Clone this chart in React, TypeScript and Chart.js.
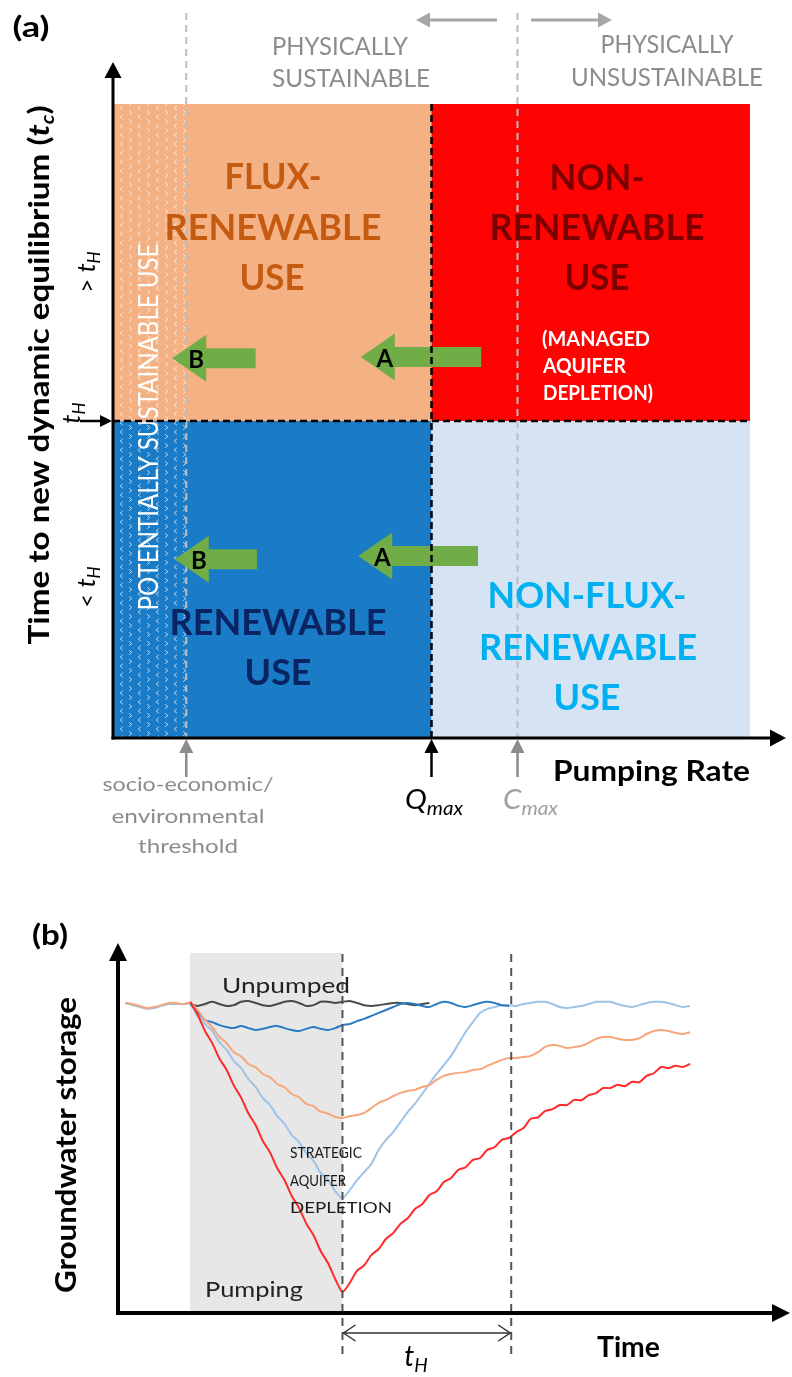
import React, { useEffect, useRef } from 'react';
import { Chart, registerables } from 'chart.js';

Chart.register(...registerables);

const FAM = 'Lato, "Open Sans", sans-serif';

// ---------------- Panel (a): pumping rate vs time to new dynamic equilibrium ----------------
const pumpingRateBounds = [0, 50, 100]; // origin, Q_max, end of axis
const equilibriumBounds = [0, 50, 100]; // origin, t_H, top of axis
const thresholdRate = 11.5; // socio-economic / environmental threshold
const qMax = 50;
const cMax = 63.5;
const shiftLabels = ['A', 'B', 'A', 'B'];
const shiftFrom = [57.8, 22.4, 57.3, 22.6];
const shiftTo = [38.9, 9.3, 38.5, 9.7];
const shiftLevel = [60.1, 59.9, 28.7, 28.2];

// ---------------- Panel (b): groundwater storage through time ----------------
const pumpingStart = 9.94;
const pumpingEnd = 31;
const recoveryEnd = 54.3;

const unpumpedStart = 10;
const unpumped = [83.5, 83.0, 83.5, 84.1, 83.5, 83.0, 83.2, 84.1, 84.3, 83.8, 83.2, 83.0, 83.5, 84.1, 84.3, 83.8, 83.0, 83.2, 84.1, 84.1, 83.8, 84.1, 84.3, 83.8, 83.2, 83.0, 83.2, 83.5, 83.8, 83.8, 83.5, 83.2, 83.5, 83.8];

const renewableStart = 10;
const renewable = [83.5, 81.4, 79.2, 78.6, 77.8, 77.3, 77.0, 77.6, 77.0, 76.5, 76.8, 77.3, 77.6, 77.0, 76.5, 76.2, 76.8, 77.3, 76.8, 76.5, 77.0, 77.8, 78.1, 78.9, 79.5, 80.3, 81.1, 81.9, 82.7, 83.5, 83.8, 83.5, 83.0, 82.7, 83.5, 84.1, 83.8, 83.0, 82.7, 83.2, 83.8, 84.1, 83.8, 83.2, 83.0];

const fluxRenewableStart = 1;
const fluxRenewable = [83.8, 83.5, 83.0, 82.4, 82.7, 83.2, 83.8, 83.8, 83.5, 83.8, 81.9, 79.2, 77.3, 74.6, 72.9, 70.5, 69.4, 67.3, 66.4, 64.6, 63.7, 61.9, 61.0, 59.2, 58.3, 56.5, 55.9, 54.4, 53.9, 53.0, 52.7, 53.2, 53.5, 54.1, 55.4, 56.8, 57.6, 58.6, 59.5, 60.0, 60.3, 61.1, 61.6, 63.0, 64.1, 64.6, 64.9, 65.1, 65.7, 65.9, 66.8, 67.6, 68.4, 68.9, 68.9, 69.2, 69.5, 70.5, 71.9, 72.4, 72.2, 71.6, 71.9, 72.2, 73.0, 74.1, 74.6, 74.6, 74.1, 73.8, 73.8, 74.3, 75.4, 76.2, 76.5, 76.2, 75.7, 75.4, 75.9];

const strategicStart = 1;
const strategic = [83.8, 83.2, 82.7, 82.2, 82.4, 83.0, 83.5, 83.5, 83.5, 83.5, 80.3, 78.1, 76.3, 73.2, 71.1, 68.1, 66.2, 63.2, 61.1, 58.1, 56.2, 53.2, 51.1, 48.1, 46.2, 43.2, 41.1, 37.8, 36.0, 32.9, 31.1, 33.2, 35.9, 38.1, 40.3, 44.1, 46.8, 48.9, 51.6, 54.3, 56.5, 59.2, 61.9, 64.6, 67.0, 69.5, 72.7, 75.9, 78.6, 81.1, 82.2, 82.7, 83.2, 83.2, 83.0, 83.5, 83.8, 84.1, 84.1, 83.5, 82.7, 82.4, 82.7, 83.0, 83.5, 84.1, 84.1, 84.1, 83.5, 83.0, 82.7, 83.2, 83.8, 84.1, 84.1, 83.8, 83.2, 82.7, 83.0];

const nonRenewableStart = 10;
const nonRenewable = [84.1, 80.6, 76.3, 73.0, 68.8, 65.7, 61.5, 58.2, 54.0, 50.8, 46.5, 43.4, 39.1, 35.9, 31.6, 28.4, 24.2, 21.0, 16.7, 13.5, 9.2, 5.7, 8.1, 11.4, 12.9, 15.7, 17.3, 20.0, 21.6, 24.1, 25.6, 28.1, 29.4, 31.9, 32.9, 35.4, 36.5, 38.7, 39.4, 41.4, 41.9, 44.1, 44.8, 46.8, 47.3, 48.9, 50.0, 52.5, 52.9, 54.6, 55.1, 56.2, 56.2, 57.6, 57.5, 58.9, 59.4, 60.8, 60.8, 61.7, 61.3, 62.5, 62.4, 64.1, 64.8, 66.5, 66.2, 66.8, 66.5, 67.3];

const B_OFFSET = 870;

type Run = { t: string; size: number; weight?: string; italic?: boolean; dy?: number };

function fontOf(r: Run) {
  return `${r.italic ? 'italic ' : ''}${r.weight || 'normal'} ${r.size}px ${FAM}`;
}

function runs(ctx: CanvasRenderingContext2D, list: Run[], cx: number, cy: number, opts: { color: string; align?: 'left' | 'center'; rot?: number; width?: number }) {
  let total = 0;
  const widths = list.map((r) => {
    ctx.font = fontOf(r);
    const w = ctx.measureText(r.t).width;
    total += w;
    return w;
  });
  const sx = opts.width ? opts.width / total : 1;
  ctx.save();
  ctx.translate(cx, cy);
  if (opts.rot) ctx.rotate(opts.rot);
  ctx.scale(sx, 1);
  let x = opts.align === 'left' ? 0 : -total / 2;
  const base = list[0].size * 0.358;
  ctx.fillStyle = opts.color;
  ctx.textAlign = 'left';
  ctx.textBaseline = 'alphabetic';
  list.forEach((r, i) => {
    ctx.font = fontOf(r);
    ctx.fillText(r.t, x, base + (r.dy || 0));
    x += widths[i];
  });
  ctx.restore();
}

function text(ctx: CanvasRenderingContext2D, s: string, cx: number, cy: number, size: number, opts: { color: string; weight?: string; italic?: boolean; align?: 'left' | 'center'; rot?: number; width?: number }) {
  runs(ctx, [{ t: s, size, weight: opts.weight, italic: opts.italic }], cx, cy, opts);
}

function head(ctx: CanvasRenderingContext2D, tipX: number, tipY: number, dx: number, dy: number, len: number, half: number) {
  const bx = tipX - dx * len;
  const by = tipY - dy * len;
  const px = -dy;
  const py = dx;
  ctx.beginPath();
  ctx.moveTo(tipX, tipY);
  ctx.lineTo(bx + px * half, by + py * half);
  ctx.lineTo(bx - px * half, by - py * half);
  ctx.closePath();
  ctx.fill();
}

function line(ctx: CanvasRenderingContext2D, x1: number, y1: number, x2: number, y2: number) {
  ctx.beginPath();
  ctx.moveTo(x1, y1);
  ctx.lineTo(x2, y2);
  ctx.stroke();
}

function makeHatch(): CanvasPattern | string {
  const tile = document.createElement('canvas');
  tile.width = 18;
  tile.height = 18;
  const t = tile.getContext('2d')!;
  t.strokeStyle = 'rgba(255,255,255,0.7)';
  t.lineWidth = 1;
  const chev = (x: number, y: number, dir: number) => {
    t.beginPath();
    t.moveTo(x - dir * 1.3, y - 2.2);
    t.lineTo(x + dir * 1.3, y);
    t.lineTo(x - dir * 1.3, y + 2.2);
    t.stroke();
  };
  chev(4.5, 4.5, 1);
  chev(4.5, 13.5, 1);
  chev(13.5, 0, -1);
  chev(13.5, 9, -1);
  chev(13.5, 18, -1);
  const ctx = document.createElement('canvas').getContext('2d')!;
  return ctx.createPattern(tile, 'repeat') || 'rgba(255,255,255,0.3)';
}

const panelAPlugin = {
  id: 'panelA',
  beforeDatasetsDraw(chart: any) {
    const ctx: CanvasRenderingContext2D = chart.ctx;
    const X = (v: number) => chart.scales.x.getPixelForValue(v);
    const Y = (v: number) => chart.scales.y.getPixelForValue(v);
    const [x0, xq, x1] = pumpingRateBounds.map(X);
    const [y0, yt, y1] = equilibriumBounds.map(Y);
    ctx.save();
    // quadrants
    ctx.fillStyle = '#F4B183';
    ctx.fillRect(x0, y1, xq - x0, yt - y1);
    ctx.fillStyle = '#FF0303';
    ctx.fillRect(xq, y1, x1 - xq, yt - y1);
    ctx.fillStyle = '#1A7CC7';
    ctx.fillRect(x0, yt, xq - x0, y0 - yt);
    ctx.fillStyle = '#D5E3F3';
    ctx.fillRect(xq, yt, x1 - xq, y0 - yt);
    // potentially sustainable hatch strip
    const xt = X(thresholdRate);
    ctx.fillStyle = makeHatch() as any;
    ctx.fillRect(x0, y1, xt - x0, y0 - y1);
    text(ctx, 'POTENTIALLY SUSTAINABLE USE', 148, 427, 27, { color: '#FFFFFF', rot: -Math.PI / 2, width: 367 });

    // grey dashed threshold / C_max lines
    ctx.strokeStyle = '#BDBDBD';
    ctx.lineWidth = 2;
    ctx.setLineDash([7, 5]);
    line(ctx, xt, 13, xt, y0);
    line(ctx, X(cMax), 13, X(cMax), y0);
    ctx.setLineDash([]);

    // region labels
    const fl = '#C55A11';
    text(ctx, 'FLUX-', 273, 176, 37, { color: fl, weight: 'bold', width: 97 });
    text(ctx, 'RENEWABLE', 273, 227, 37, { color: fl, weight: 'bold', width: 217 });
    text(ctx, 'USE', 272, 277, 37, { color: fl, weight: 'bold', width: 65 });
    const nr = '#7A0000';
    text(ctx, 'NON-', 597, 177, 37, { color: nr, weight: 'bold', width: 95 });
    text(ctx, 'RENEWABLE', 597, 227, 37, { color: nr, weight: 'bold', width: 215 });
    text(ctx, 'USE', 597, 277, 37, { color: nr, weight: 'bold', width: 65 });
    text(ctx, '(MANAGED', 542, 338, 21, { color: '#FFFFFF', weight: 'bold', align: 'left', width: 108 });
    text(ctx, 'AQUIFER', 543, 365, 21, { color: '#FFFFFF', weight: 'bold', align: 'left', width: 83 });
    text(ctx, 'DEPLETION)', 543, 392, 21, { color: '#FFFFFF', weight: 'bold', align: 'left', width: 110 });
    const rn = '#0A2463';
    text(ctx, 'RENEWABLE', 278, 622, 37, { color: rn, weight: 'bold', width: 217 });
    text(ctx, 'USE', 278, 672, 37, { color: rn, weight: 'bold', width: 67 });
    const nf = '#00B0F0';
    text(ctx, 'NON-FLUX-', 587, 595, 37, { color: nf, weight: 'bold', width: 199 });
    text(ctx, 'RENEWABLE', 588, 647, 37, { color: nf, weight: 'bold', width: 218 });
    text(ctx, 'USE', 587, 697, 37, { color: nf, weight: 'bold', width: 67 });

    // green shift arrows
    shiftLabels.forEach((lab, i) => {
      const tip = X(shiftTo[i]);
      const end = X(shiftFrom[i]);
      const cy = Y(shiftLevel[i]);
      const hl = 34;
      ctx.fillStyle = '#70AD47';
      ctx.beginPath();
      ctx.moveTo(tip, cy);
      ctx.lineTo(tip + hl, cy - 23.5);
      ctx.lineTo(tip + hl, cy - 10);
      ctx.lineTo(end, cy - 10);
      ctx.lineTo(end, cy + 10);
      ctx.lineTo(tip + hl, cy + 10);
      ctx.lineTo(tip + hl, cy + 23.5);
      ctx.closePath();
      ctx.fill();
      text(ctx, lab, tip + 24, cy + 1, 24, { color: '#000000', weight: 'bold' });
    });

    // black dashed Q_max / t_H lines
    ctx.strokeStyle = '#000000';
    ctx.lineWidth = 2.5;
    ctx.setLineDash([7, 4]);
    line(ctx, xq, y1, xq, y0);
    line(ctx, x0, yt, x1, yt);
    ctx.setLineDash([]);

    // axes
    ctx.strokeStyle = '#000000';
    ctx.fillStyle = '#000000';
    ctx.lineWidth = 3;
    line(ctx, x0, y0 + 1.5, x0, 74);
    head(ctx, x0, 62, 0, -1, 16, 8.5);
    line(ctx, x0 - 1.5, y0, 772, y0);
    head(ctx, 786, y0, 1, 0, 16, 8.5);
    // t_H tick arrow
    ctx.lineWidth = 2.5;
    line(ctx, 80, yt, 102, yt);
    head(ctx, x0 - 1, yt, 1, 0, 12, 6);

    // arrows under the x axis
    const upArrow = (x: number, color: string) => {
      ctx.strokeStyle = color;
      ctx.fillStyle = color;
      ctx.lineWidth = 2.5;
      line(ctx, x, 777, x, 750);
      head(ctx, x, y0 + 1, 0, -1, 14, 7);
    };
    upArrow(xt, '#8C8C8C');
    upArrow(X(cMax), '#8C8C8C');
    upArrow(xq, '#000000');

    // top grey arrows
    ctx.strokeStyle = '#A6A6A6';
    ctx.fillStyle = '#A6A6A6';
    ctx.lineWidth = 3;
    line(ctx, 497, 20, 428, 20);
    head(ctx, 416, 20, -1, 0, 14, 7.5);
    line(ctx, 531, 20, 600, 20);
    head(ctx, 612, 20, 1, 0, 14, 7.5);

    // texts
    const g = '#8C8C8C';
    text(ctx, '(a)', 31, 27, 28, { color: '#000000', weight: 'bold', width: 37 });
    text(ctx, 'PHYSICALLY', 272, 46, 25, { color: g, align: 'left', width: 136 });
    text(ctx, 'SUSTAINABLE', 272, 78, 25, { color: g, align: 'left', width: 158 });
    text(ctx, 'PHYSICALLY', 667, 44, 25, { color: g, width: 133 });
    text(ctx, 'UNSUSTAINABLE', 667, 77, 25, { color: g, width: 192 });

    text(ctx, 'socio-economic/', 188, 784, 20, { color: g, width: 171 });
    text(ctx, 'environmental', 188, 816, 20, { color: g, width: 153 });
    text(ctx, 'threshold', 188, 846, 20, { color: g, width: 100 });

    runs(ctx, [{ t: 'Q', size: 27, italic: true }, { t: 'max', size: 19, italic: true, dy: 6 }], 405, 799, { color: '#000000', align: 'left', width: 58 });
    runs(ctx, [{ t: 'C', size: 27, italic: true }, { t: 'max', size: 19, italic: true, dy: 6 }], 503, 799, { color: '#A0A0A0', align: 'left', width: 55 });
    text(ctx, 'Pumping Rate', 553, 771, 28, { color: '#000000', weight: 'bold', align: 'left', width: 197 });

    runs(ctx, [
      { t: 'Time to new dynamic equilibrium (', size: 28, weight: 'bold' },
      { t: 't', size: 28, weight: 'bold', italic: true },
      { t: 'c', size: 18, weight: 'bold', italic: true, dy: 5 },
      { t: ')', size: 28, weight: 'bold' },
    ], 39, 375, { color: '#000000', rot: -Math.PI / 2, width: 539 });

    const tH = (sym: string, cx: number, cy: number) =>
      runs(ctx, [
        { t: sym, size: 24 },
        { t: 't', size: 26, italic: true },
        { t: 'H', size: 17, italic: true, dy: 5 },
      ], cx, cy, { color: '#000000', rot: -Math.PI / 2 });
    tH('> ', 86, 272);
    tH('< ', 86, 587);
    runs(ctx, [{ t: 't', size: 26, italic: true }, { t: 'H', size: 17, italic: true, dy: 5 }], 71, 413, { color: '#000000', rot: -Math.PI / 2 });
    ctx.restore();
  },
};

const panelBPlugin = {
  id: 'panelB',
  beforeDatasetsDraw(chart: any) {
    const ctx: CanvasRenderingContext2D = chart.ctx;
    const X = (v: number) => chart.scales.x.getPixelForValue(v);
    const Y = (v: number) => chart.scales.y.getPixelForValue(v);
    ctx.save();
    ctx.fillStyle = '#E7E7E7';
    ctx.fillRect(X(pumpingStart), Y(97.3), X(pumpingEnd) - X(pumpingStart), Y(0) - Y(97.3));
    ctx.restore();
  },
  afterDatasetsDraw(chart: any) {
    const ctx: CanvasRenderingContext2D = chart.ctx;
    const X = (v: number) => chart.scales.x.getPixelForValue(v);
    const Y = (v: number) => chart.scales.y.getPixelForValue(v);
    ctx.save();
    const xs = X(pumpingEnd);
    const xe = X(recoveryEnd);
    const y0 = Y(0);
    ctx.strokeStyle = '#555555';
    ctx.lineWidth = 2;
    ctx.setLineDash([8, 6]);
    line(ctx, xs, Y(97), xs, y0 + 42);
    line(ctx, xe, Y(97), xe, y0 + 42);
    ctx.setLineDash([]);

    // axes
    const x0 = X(0);
    ctx.strokeStyle = '#000000';
    ctx.fillStyle = '#000000';
    ctx.lineWidth = 4;
    line(ctx, x0, y0 + 2, x0, Y(100) + 16);
    head(ctx, x0, Y(100), 0, -1, 18, 9);
    line(ctx, x0 - 2, y0, X(92.8) - 16, y0);
    head(ctx, X(92.8), y0, 1, 0, 18, 9);

    // t_H double arrow
    ctx.strokeStyle = '#333333';
    ctx.lineWidth = 1.5;
    const ya = y0 + 20;
    line(ctx, xs + 1, ya, xe - 1, ya);
    ctx.beginPath();
    ctx.moveTo(xs + 13, ya - 8);
    ctx.lineTo(xs + 1, ya);
    ctx.lineTo(xs + 13, ya + 8);
    ctx.moveTo(xe - 13, ya - 8);
    ctx.lineTo(xe - 1, ya);
    ctx.lineTo(xe - 13, ya + 8);
    ctx.stroke();

    ctx.translate(0, -B_OFFSET);
    text(ctx, '(b)', 50, 935, 28, { color: '#000000', weight: 'bold', width: 36 });
    text(ctx, 'Unpumped', 286, 985, 22, { color: '#222222', width: 128 });
    text(ctx, 'Pumping', 205, 1289, 22, { color: '#222222', align: 'left', width: 98 });
    text(ctx, 'STRATEGIC', 290, 1152, 16, { color: '#1A1A1A', align: 'left', width: 72 });
    text(ctx, 'AQUIFER', 290, 1180, 16, { color: '#1A1A1A', align: 'left', width: 56 });
    text(ctx, 'DEPLETION', 290, 1207, 16, { color: '#1A1A1A', align: 'left', width: 102 });
    runs(ctx, [{ t: 't', size: 28, italic: true }, { t: 'H', size: 19, italic: true, dy: 6 }], 416, 1356, { color: '#000000' });
    text(ctx, 'Time', 597, 1347, 28, { color: '#000000', weight: 'bold', align: 'left', width: 63 });
    text(ctx, 'Groundwater storage', 66, 1145, 28, { color: '#000000', weight: 'bold', rot: -Math.PI / 2, width: 296 });
    ctx.restore();
  },
};

function series(start: number, values: number[]) {
  return values.map((v, i) => ({ x: start + i, y: v }));
}

export default function App() {
  const refA = useRef<HTMLCanvasElement>(null);
  const refB = useRef<HTMLCanvasElement>(null);

  useEffect(() => {
    const chartA = new Chart(refA.current!, {
      type: 'scatter',
      data: { datasets: [] },
      options: {
        animation: false,
        responsive: false,
        devicePixelRatio: 1,
        layout: { padding: { left: 113, right: 42, top: 104, bottom: 132 } },
        scales: {
          x: { type: 'linear', min: 0, max: 100, display: false },
          y: { type: 'linear', min: 0, max: 100, display: false },
        },
        plugins: { legend: { display: false }, tooltip: { enabled: false } },
      },
      plugins: [panelAPlugin],
    } as any);

    const lineDs = (label: string, start: number, values: number[], color: string) => ({
      label,
      data: series(start, values),
      borderColor: color,
      borderWidth: 2,
      pointRadius: 0,
      tension: 0.25,
      fill: false,
    });

    const chartB = new Chart(refB.current!, {
      type: 'line',
      data: {
        datasets: [
          lineDs('Non-renewable', nonRenewableStart, nonRenewable, '#FF2B2B'),
          lineDs('Flux-renewable', fluxRenewableStart, fluxRenewable, '#F7A67A'),
          lineDs('Renewable', renewableStart, renewable, '#2B7BC5'),
          lineDs('Unpumped', unpumpedStart, unpumped, 'rgba(45,45,45,0.85)'),
          lineDs('Strategic aquifer depletion', strategicStart, strategic, '#9DC3E6'),
        ],
      },
      options: {
        animation: false,
        responsive: false,
        devicePixelRatio: 1,
        layout: { padding: { left: 118, right: 2, top: 73, bottom: 64 } },
        scales: {
          x: { type: 'linear', min: 0, max: 92.8, display: false },
          y: { type: 'linear', min: 0, max: 100, display: false },
        },
        plugins: { legend: { display: false }, tooltip: { enabled: false } },
      },
      plugins: [panelBPlugin],
    } as any);

    return () => {
      chartA.destroy();
      chartB.destroy();
    };
  }, []);

  return (
    <div style={{ position: 'absolute', left: 0, top: 0, width: 792, height: 1377, background: '#FFFFFF' }}>
      <canvas ref={refA} width={792} height={870} style={{ position: 'absolute', left: 0, top: 0 }} />
      <canvas ref={refB} width={792} height={507} style={{ position: 'absolute', left: 0, top: B_OFFSET }} />
    </div>
  );
}
